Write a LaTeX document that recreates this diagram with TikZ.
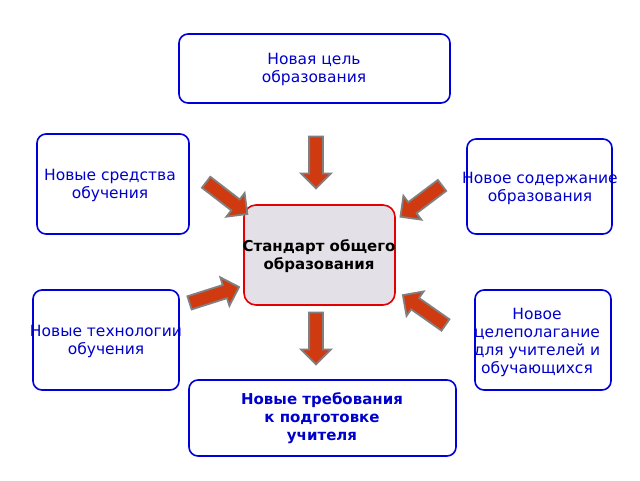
\documentclass[tikz,border=0pt]{standalone}
\usepackage{fontspec}
\setmainfont{DejaVu Sans}
\usetikzlibrary{shapes.arrows}
\definecolor{arrred}{HTML}{D03A10}
\definecolor{cfill}{HTML}{E3E1E7}
\begin{document}
\begin{tikzpicture}[x=1pt,y=-1pt,
  bx/.style={draw=blue!85!black, line width=1.6pt, rounded corners=9pt, fill=white},
  tx/.style={align=center, text=blue!80!black, font=\fontsize{15.5}{18}\selectfont},
  blockarrow/.style={single arrow, draw=gray, line width=1.8pt, fill=arrred,
    inner sep=6pt, minimum height=52pt, single arrow head extend=8pt}]
\useasboundingbox (0,0) rectangle (640,480);
\draw[bx] (179,34) rectangle (450,103);
\node[tx] (t1) at (314,69) {Новая цель\\образования};
\draw[bx] (37,134) rectangle (189,234);
\node[tx] (t2) at (110,185) {Новые средства\\обучения};
\draw[bx] (467,139) rectangle (612,234);
\node[tx] (t3) at (540,188) {Новое содержание\\образования};
\draw[draw=red!90!black, line width=1.6pt, rounded corners=12pt, fill=cfill] (244,205) rectangle (395,305);
\node[align=center, font=\bfseries\fontsize{15}{18}\selectfont] (c) at (319,256) {Стандарт общего\\образования};
\draw[bx] (33,290) rectangle (179,390);
\node[tx] (t4) at (106,341) {Новые технологии\\обучения};
\draw[bx] (475,290) rectangle (611,390);
\node[tx] (t5) at (537,342) {Новое\\целеполагание\\для учителей и\\обучающихся};
\draw[bx] (189,380) rectangle (456,456);
\node[tx, font=\bfseries\fontsize{15}{18}\selectfont] (t6) at (322,418) {Новые требования\\к подготовке\\учителя};
\node[blockarrow, rotate=-90] (a1) at (316,159) {};
\node[blockarrow, rotate=-37.6] (a2) at (224,196) {};
\node[blockarrow, rotate=217] (a3) at (424,199) {};
\node[blockarrow, rotate=17.7] (a4) at (211,296) {};
\node[blockarrow, rotate=145] (a5) at (427,312) {};
\node[blockarrow, rotate=-90] (a6) at (316,335) {};
\end{tikzpicture}
\end{document}
